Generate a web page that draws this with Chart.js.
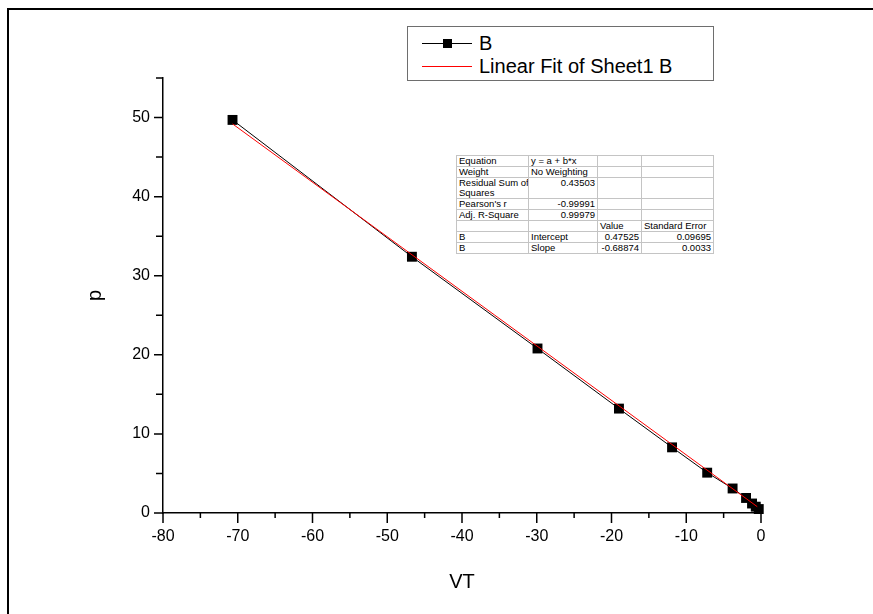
<!DOCTYPE html>
<html>
<head>
<meta charset="utf-8">
<script src="https://cdn.jsdelivr.net/npm/chart.js@4.4.1/dist/chart.umd.min.js"></script>
<style>
  html, body { margin: 0; padding: 0; background: #fff; }
  #wrap { position: relative; width: 873px; height: 614px; overflow: hidden;
          font-family: "Liberation Sans", Arial, sans-serif; }
  #frame { position: absolute; left: 7px; top: 8px; width: 900px; height: 700px;
           border-top: 2px solid #000; border-left: 2px solid #000; }
  canvas { position: absolute; left: 0; top: 0; }
  #legend { position: absolute; left: 407px; top: 26px; width: 305px; height: 53px;
            border: 1px solid #6e6e6e; background: #fff; }
  #legend .row { position: absolute; left: 0; height: 24px; width: 100%; }
  #legend .ln { position: absolute; left: 14px; top: 12px; width: 50px; height: 1px; }
  #legend .sq { position: absolute; left: 35px; top: 8px; width: 9px; height: 9px; background: #000; }
  #legend .txt { position: absolute; left: 71px; top: 0; font-size: 20px; line-height: 24px; color: #000; white-space: nowrap; }
  #stats { position: absolute; left: 456px; top: 155px; width: 257px; table-layout: fixed;
           border-collapse: collapse; font-size: 9.5px; color: #000; background: #fff;
           border: 1px solid #7a7a7a; }
  #stats td { border: 1px solid #c4c4c4; padding: 0 2px; vertical-align: top; line-height: 10px;
              white-space: pre; overflow: hidden; }
  #stats td.num { text-align: right; }
</style>
</head>
<body>
<div id="wrap">
  <canvas id="chart" width="873" height="614"></canvas>
  <div id="frame"></div>
  <div id="legend"></div>
  <table id="stats"></table>
</div>
<script>
'use strict';

// ─── Data ─────────────────────────────────────────────────────────────────────

const vt = [-70.7, -46.7, -29.9, -19.0, -11.9, -7.2, -3.8, -2.0, -1.2, -0.7, -0.3];
const p = [49.7, 32.4, 20.8, 13.2, 8.3, 5.1, 3.1, 1.9, 1.2, 0.8, 0.5];

// fitted line, two ends as drawn
const fitX = [-70.7, -0.5];
const fitY = [49.2, 0.8];

const xTicks = [-80, -70, -60, -50, -40, -30, -20, -10, 0];
const yTicks = [0, 10, 20, 30, 40, 50];

const fitTable = [
  ['Equation', 'y = a + b*x', '', ''],
  ['Weight', 'No Weighting', '', ''],
  ['Residual Sum of\nSquares', '0.43503', '', ''],
  ["Pearson's r", '-0.99991', '', ''],
  ['Adj. R-Square', '0.99979', '', ''],
  ['', '', 'Value', 'Standard Error'],
  ['B', 'Intercept', '0.47525', '0.09695'],
  ['B', 'Slope', '-0.68874', '0.0033'],
];

// ─── Tick marks (Origin style, outward, major + minor) ───────────────────────

const tickMarks = {
  id: 'tickMarks',
  afterDraw(chart) {
    const { ctx, scales: { x, y } } = chart;
    ctx.save();
    ctx.strokeStyle = '#000';
    ctx.lineWidth = 1.5;
    ctx.beginPath();
    x.ticks.forEach((t) => {
      const px = x.getPixelForValue(t.value);
      const len = xTicks.includes(t.value) ? 10 : 5;
      ctx.moveTo(px, x.top);
      ctx.lineTo(px, x.top + len);
    });
    y.ticks.forEach((t) => {
      const py = y.getPixelForValue(t.value);
      const len = yTicks.includes(t.value) ? 9 : 7;
      ctx.moveTo(y.right, py);
      ctx.lineTo(y.right - len, py);
    });
    ctx.stroke();
    ctx.restore();
  },
};

// ─── Chart ────────────────────────────────────────────────────────────────────

const FONT = '"Liberation Sans", Arial, sans-serif';
Chart.defaults.font.family = FONT;
Chart.defaults.color = '#000';

const chart = new Chart(document.getElementById('chart'), {
  type: 'scatter',
  data: {
    datasets: [
      {
        label: 'Linear Fit of Sheet1 B',
        data: fitX.map((v, i) => ({ x: v, y: fitY[i] })),
        showLine: true,
        borderColor: '#ff0000',
        borderWidth: 1,
        pointRadius: 0,
        order: 0,
      },
      {
        label: 'B',
        data: vt.map((v, i) => ({ x: v, y: p[i] })),
        showLine: true,
        borderColor: '#000',
        borderWidth: 1,
        pointStyle: 'rect',
        pointRadius: 7,
        pointBackgroundColor: '#000',
        pointBorderColor: '#000',
        pointBorderWidth: 0,
        clip: false,
        order: 1,
      },
    ],
  },
  options: {
    responsive: false,
    animation: false,
    events: [],
    layout: { padding: { left: 0, top: 78, right: 112, bottom: 0 } },
    plugins: { legend: { display: false }, tooltip: { enabled: false } },
    scales: {
      x: {
        type: 'linear',
        min: -80,
        max: 0,
        grid: { display: false, drawTicks: false },
        border: { display: true, color: '#000', width: 1.5 },
        ticks: {
          stepSize: 5,
          padding: 14,
          font: { size: 16 },
          callback: (v) => (xTicks.includes(v) ? String(v) : ''),
        },
        title: { display: true, text: 'VT', font: { size: 20 }, padding: { bottom: 20 } },
        afterFit: (s) => { s.height = 101; },
      },
      y: {
        type: 'linear',
        min: 0,
        max: 55,
        grid: { display: false, drawTicks: false },
        border: { display: true, color: '#000', width: 1.5 },
        ticks: {
          stepSize: 5,
          padding: 13,
          font: { size: 16 },
          callback: (v) => (yTicks.includes(v) ? String(v) : ''),
        },
        title: { display: true, text: 'p', font: { size: 20 }, padding: { top: 83 } },
        afterFit: (s) => { s.width = 163; },
      },
    },
  },
  plugins: [tickMarks],
});

// ─── Legend ───────────────────────────────────────────────────────────────────

const legend = document.getElementById('legend');
const legendOrder = [1, 0];
legendOrder.forEach((idx, row) => {
  const ds = chart.data.datasets[idx];
  const div = document.createElement('div');
  div.className = 'row';
  div.style.top = row === 0 ? '4px' : '27px';
  div.innerHTML =
    `<i class="ln" style="background:${ds.borderColor}"></i>` +
    (ds.pointRadius ? '<i class="sq"></i>' : '') +
    `<span class="txt">${ds.label}</span>`;
  legend.appendChild(div);
});

// ─── Fit table ────────────────────────────────────────────────────────────────

const colW = [72, 69, 44, 72];
const rowH = [11, 11, 21, 11, 11, 11, 11, 11];
const numCells = { '2,1': 1, '3,1': 1, '4,1': 1, '6,2': 1, '6,3': 1, '7,2': 1, '7,3': 1 };
const tbl = document.getElementById('stats');
const cg = document.createElement('colgroup');
colW.forEach((w) => {
  const col = document.createElement('col');
  col.style.width = w + 'px';
  cg.appendChild(col);
});
tbl.appendChild(cg);
fitTable.forEach((r, i) => {
  const tr = document.createElement('tr');
  tr.style.height = rowH[i] + 'px';
  r.forEach((c, j) => {
    const td = document.createElement('td');
    td.textContent = c;
    if (numCells[`${i},${j}`]) td.className = 'num';
    tr.appendChild(td);
  });
  tbl.appendChild(tr);
});
</script>
</body>
</html>
